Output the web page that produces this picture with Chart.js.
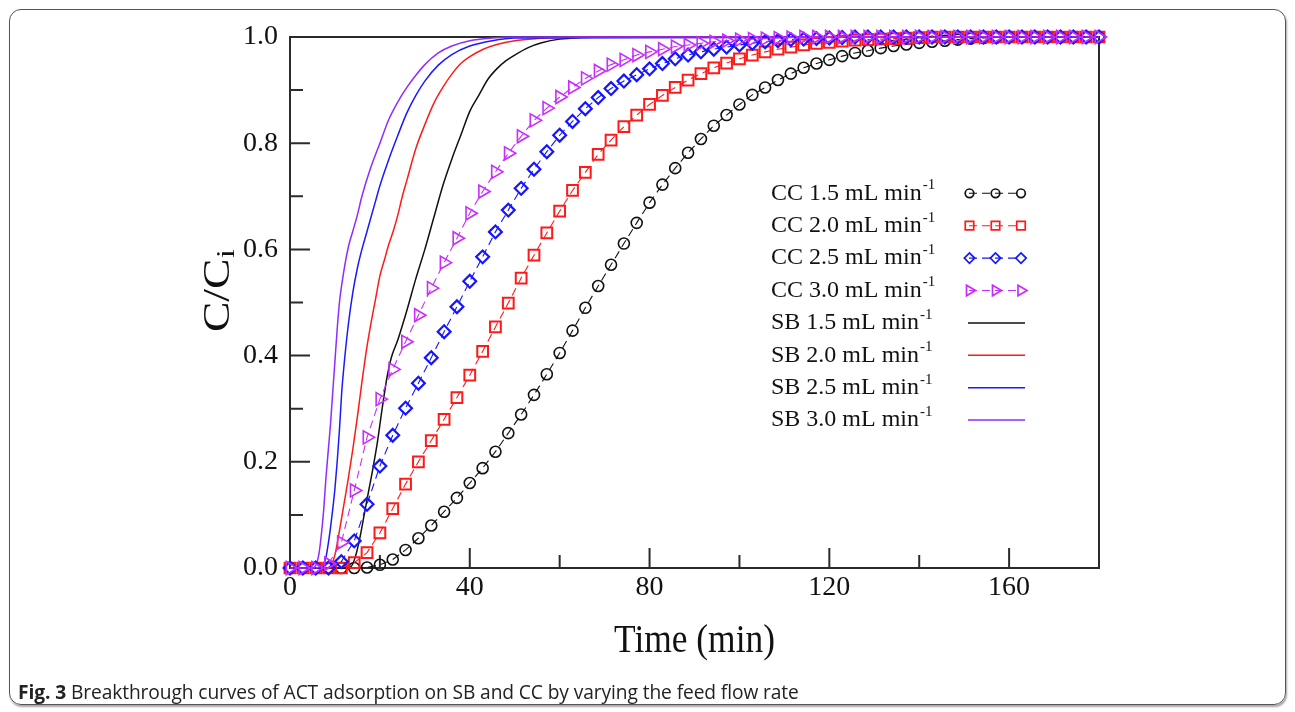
<!DOCTYPE html>
<html>
<head>
<meta charset="utf-8">
<script src="https://cdn.jsdelivr.net/npm/chart.js@4.4.1/dist/chart.umd.min.js"></script>
<style>
html,body{margin:0;padding:0;background:#fff;width:1295px;height:712px;overflow:hidden;}
#frame{position:absolute;left:9px;top:9px;width:1275px;height:694px;border:1.5px solid #555;border-radius:12px;box-shadow:1px 2px 2px rgba(0,0,0,.35);}
#c{position:absolute;left:0;top:0;}
#cap{position:absolute;left:18px;top:681px;font-family:'Open Sans',sans-serif;font-size:19.2px;line-height:22px;color:#222;white-space:nowrap;letter-spacing:-0.1px;}
#cap b{font-weight:700;}
</style>
</head>
<body>
<div id="frame"></div>
<canvas id="c" width="1295" height="712"></canvas>
<div id="cap"><b>Fig. 3</b> Breakthrough curves of ACT adsorption on SB and CC by varying the feed flow rate</div>
<script>
// ---- data (time in min, C/Ci) ----
const ccTime = [0,2.86,5.71,8.57,11.43,14.29,17.14,20,22.86,25.71,28.57,31.43,34.29,37.14,40,42.86,45.71,48.57,51.43,54.29,57.14,60,62.86,65.71,68.57,71.43,74.29,77.14,80,82.86,85.71,88.57,91.43,94.29,97.14,100,102.86,105.71,108.57,111.43,114.29,117.14,120,122.86,125.71,128.57,131.43,134.29,137.14,140,142.86,145.71,148.57,151.43,154.29,157.14,160,162.86,165.71,168.57,171.43,174.29,177.14,180];

const cc15 = [0,0,0,0,0,0,0.001,0.006,0.016,0.034,0.056,0.080,0.106,0.132,0.160,0.188,0.219,0.254,0.289,0.326,0.365,0.405,0.447,0.490,0.531,0.571,0.611,0.650,0.688,0.722,0.753,0.782,0.808,0.833,0.853,0.873,0.891,0.905,0.919,0.931,0.942,0.950,0.957,0.964,0.970,0.974,0.979,0.983,0.986,0.989,0.991,0.993,0.995,0.997,0.998,0.999,1,1,1,1,1,1,1,1];
const cc20 = [0,0,0,0,0,0.010,0.029,0.066,0.112,0.158,0.200,0.240,0.280,0.321,0.363,0.408,0.454,0.499,0.546,0.589,0.631,0.672,0.711,0.745,0.779,0.806,0.831,0.853,0.873,0.890,0.905,0.919,0.931,0.942,0.951,0.959,0.966,0.972,0.977,0.981,0.985,0.988,0.990,0.992,0.994,0.995,0.996,0.997,0.998,0.999,1,1,1,1,1,1,1,1,1,1,1,1,1,1];
const cc25 = [0,0,0,0,0.012,0.051,0.120,0.192,0.250,0.301,0.348,0.396,0.445,0.492,0.540,0.586,0.633,0.674,0.715,0.751,0.784,0.815,0.841,0.865,0.886,0.903,0.917,0.929,0.940,0.950,0.959,0.966,0.972,0.977,0.981,0.985,0.988,0.991,0.993,0.995,0.996,0.997,0.998,0.999,1,1,1,1,1,1,1,1,1,1,1,1,1,1,1,1,1,1,1,1];
const cc30 = [0,0,0,0.008,0.048,0.146,0.246,0.318,0.374,0.426,0.476,0.527,0.575,0.621,0.668,0.709,0.746,0.781,0.813,0.843,0.866,0.887,0.905,0.922,0.936,0.948,0.957,0.966,0.972,0.977,0.982,0.985,0.988,0.991,0.993,0.995,0.996,0.997,0.998,0.999,1,1,1,1,1,1,1,1,1,1,1,1,1,1,1,1,1,1,1,1,1,1,1,1];

const sb15Time = [0,12,13.5,14.5,15.5,16.5,17.5,18.5,19.5,20.5,21.5,22.5,24,26,28,30,32,34,36,38,40,42,44,46,48,50,53,56,60,65,70,180];
const sb15 = [0,0,0.002,0.02,0.055,0.10,0.145,0.19,0.24,0.30,0.355,0.395,0.43,0.485,0.545,0.60,0.66,0.72,0.77,0.815,0.86,0.89,0.92,0.94,0.955,0.966,0.98,0.989,0.996,0.999,1,1];
const sb20Time = [0,8,9,10,11,12,13,14,15,16,17,18,19,20,21,22,23,24,25,26,28,30,32,34,36,38,40,43,46,50,55,60,65,180];
const sb20 = [0,0,0.004,0.025,0.07,0.12,0.17,0.225,0.285,0.35,0.41,0.46,0.505,0.55,0.58,0.61,0.635,0.665,0.70,0.73,0.79,0.835,0.875,0.905,0.93,0.95,0.963,0.977,0.986,0.993,0.997,0.999,1,1];
const sb25Time = [0,6.5,7,7.5,8,8.5,9,9.5,10,10.5,11,11.5,12,13,14,15,16,17,18,19,20,22,24,26,28,30,33,36,40,45,50,180];
const sb25 = [0,0,0.002,0.008,0.02,0.045,0.075,0.11,0.15,0.2,0.26,0.33,0.38,0.46,0.52,0.565,0.60,0.63,0.66,0.69,0.72,0.77,0.815,0.857,0.89,0.917,0.947,0.967,0.983,0.993,0.998,1];
const sb30Time = [0,5,5.5,6,6.5,7,7.5,8,8.5,9,9.5,10,10.5,11,12,13,14,15,16,18,20,22,24,26,28,30,33,36,40,45,50,180];
const sb30 = [0,0,0.002,0.01,0.03,0.065,0.11,0.17,0.22,0.27,0.33,0.39,0.45,0.50,0.56,0.605,0.635,0.665,0.70,0.755,0.80,0.845,0.878,0.905,0.928,0.948,0.97,0.983,0.993,0.998,1,1];

const xTicks = [0,40,80,120,160];
const xMinor = [20,60,100,140];
const yTicks = [0,0.2,0.4,0.6,0.8,1.0];
const yMinor = [0.1,0.3,0.5,0.7,0.9];
const legendLabels = ['CC 1.5 mL min','CC 2.0 mL min','CC 2.5 mL min','CC 3.0 mL min','SB 1.5 mL min','SB 2.0 mL min','SB 2.5 mL min','SB 3.0 mL min'];
const legendSup = '-1';

// ---- styles ----
const SERIF = '"Liberation Serif", "Times New Roman", serif';
const pts = (xs, ys) => xs.map((x, i) => ({x: x, y: ys[i]}));

function ccSet(label, xs, ys, color, shape, r, rot, bw, order) {
  return {label, data: pts(xs, ys), borderColor: color, borderWidth: 1.1, borderDash: [8, 5],
    pointStyle: shape, pointRadius: r, pointHoverRadius: r, pointRotation: rot,
    pointBorderColor: color, pointBackgroundColor: 'rgba(0,0,0,0)', pointBorderWidth: bw,
    fill: false, tension: 0, clip: false, order, _legend: {kind: 'cc', shape, rot}};
}
function sbSet(label, xs, ys, color, order) {
  return {label, data: pts(xs, ys), borderColor: color, borderWidth: 1.5,
    pointRadius: 0, pointHoverRadius: 0, fill: false, cubicInterpolationMode: 'monotone',
    clip: false, order, _legend: {kind: 'sb'}};
}

const datasets = [
  ccSet(legendLabels[0], ccTime, cc15, '#111111', 'circle', 5.5, 0, 1.6, 3),
  ccSet(legendLabels[1], ccTime, cc20, '#ff1a1a', 'rect', 7.6, 0, 2.0, 2),
  ccSet(legendLabels[2], ccTime, cc25, '#1515ff', 'rectRot', 6.4, 0, 2.2, 1),
  ccSet(legendLabels[3], ccTime, cc30, '#c82cff', 'triangle', 7.5, 90, 1.6, 0),
  sbSet(legendLabels[4], sb15Time, sb15, '#111111', 7),
  sbSet(legendLabels[5], sb20Time, sb20, '#ff1a1a', 6),
  sbSet(legendLabels[6], sb25Time, sb25, '#1a1aff', 5),
  sbSet(legendLabels[7], sb30Time, sb30, '#8f2cff', 4)
];

function drawMarker(ctx, shape, x, y, r, rot, color, lw) {
  ctx.save();
  ctx.strokeStyle = color; ctx.lineWidth = lw; ctx.setLineDash([]);
  ctx.beginPath();
  if (shape === 'circle') {
    ctx.arc(x, y, r, 0, Math.PI * 2);
  } else if (shape === 'rect') {
    const s = r * Math.SQRT1_2; ctx.rect(x - s, y - s, 2 * s, 2 * s);
  } else if (shape === 'rectRot') {
    ctx.moveTo(x - r, y); ctx.lineTo(x, y - r); ctx.lineTo(x + r, y); ctx.lineTo(x, y + r); ctx.closePath();
  } else if (shape === 'triangle') {
    let a = rot * Math.PI / 180;
    ctx.moveTo(x + Math.sin(a) * r, y - Math.cos(a) * r);
    a += 2 * Math.PI / 3; ctx.lineTo(x + Math.sin(a) * r, y - Math.cos(a) * r);
    a += 2 * Math.PI / 3; ctx.lineTo(x + Math.sin(a) * r, y - Math.cos(a) * r);
    ctx.closePath();
  }
  ctx.stroke();
  ctx.restore();
}

const framePlugin = {
  id: 'framePlugin',
  beforeDatasetsDraw(chart) {
    const {ctx, chartArea: a, scales} = chart;
    ctx.save();
    ctx.strokeStyle = '#2b2b2b';
    ctx.lineWidth = 2;
    ctx.strokeRect(a.left, a.top, a.right - a.left, a.bottom - a.top);
    ctx.beginPath();
    xTicks.forEach(v => { const p = scales.x.getPixelForValue(v); ctx.moveTo(p, a.bottom); ctx.lineTo(p, a.bottom - 20); });
    xMinor.forEach(v => { const p = scales.x.getPixelForValue(v); ctx.moveTo(p, a.bottom); ctx.lineTo(p, a.bottom - 13); });
    yTicks.forEach(v => { const p = scales.y.getPixelForValue(v); ctx.moveTo(a.left, p); ctx.lineTo(a.left + 20, p); });
    yMinor.forEach(v => { const p = scales.y.getPixelForValue(v); ctx.moveTo(a.left, p); ctx.lineTo(a.left + 13, p); });
    ctx.stroke();
    ctx.restore();
  },
  afterDraw(chart) {
    const {ctx, chartArea: a} = chart;
    ctx.save();
    ctx.fillStyle = '#111';
    // x title
    ctx.save();
    ctx.translate((a.left + a.right) / 2, 641);
    ctx.scale(0.885, 1);
    ctx.font = '40px ' + SERIF;
    ctx.textAlign = 'center'; ctx.textBaseline = 'middle';
    ctx.fillText('Time (min)', 0, 0);
    ctx.restore();
    // y title C/Ci
    ctx.save();
    ctx.translate(216, 291);
    ctx.rotate(-Math.PI / 2);
    ctx.scale(1.2, 1);
    ctx.font = '38px ' + SERIF;
    const w1 = ctx.measureText('C/C').width;
    ctx.font = '26px ' + SERIF;
    const w2 = ctx.measureText('i').width;
    const tot = w1 + w2;
    ctx.textAlign = 'left'; ctx.textBaseline = 'alphabetic';
    ctx.font = '38px ' + SERIF;
    ctx.fillText('C/C', -tot / 2, 13);
    ctx.font = '26px ' + SERIF;
    ctx.fillText('i', -tot / 2 + w1 + 0.5, 18);
    ctx.restore();
    // legend
    const y0 = 193.3, dy = 32.4, tx = 771;
    chart.data.datasets.forEach((ds, i) => {
      const y = y0 + i * dy;
      ctx.font = '24px ' + SERIF;
      ctx.textAlign = 'left'; ctx.textBaseline = 'middle';
      ctx.fillStyle = '#111';
      ctx.fillText(ds.label, tx, y);
      const w = ctx.measureText(ds.label).width;
      ctx.font = '15px ' + SERIF;
      ctx.fillText(legendSup, tx + w + 1, y - 8);
      const lg = ds._legend;
      if (lg.kind === 'cc') {
        ctx.save();
        ctx.strokeStyle = ds.borderColor; ctx.lineWidth = 1.1; ctx.setLineDash([8, 5]);
        ctx.beginPath(); ctx.moveTo(969, y); ctx.lineTo(1021, y); ctx.stroke();
        ctx.restore();
        const rr = lg.shape === 'circle' ? 4.3 : lg.shape === 'rect' ? 6 : lg.shape === 'rectRot' ? 5.2 : 6;
        [969.5, 995.5, 1021].forEach(px => drawMarker(ctx, lg.shape, px, y, rr, lg.rot, ds.borderColor, 1.7));
      } else {
        ctx.save();
        ctx.strokeStyle = ds.borderColor; ctx.lineWidth = 1.5;
        ctx.beginPath(); ctx.moveTo(968, y); ctx.lineTo(1025, y); ctx.stroke();
        ctx.restore();
      }
    });
    ctx.restore();
  }
};

new Chart(document.getElementById('c'), {
  type: 'line',
  data: {datasets},
  options: {
    responsive: false,
    animation: false,
    devicePixelRatio: 1,
    events: [],
    layout: {padding: {left: 0, right: 196, top: 37, bottom: 0}},
    plugins: {legend: {display: false}, tooltip: {enabled: false}, title: {display: false}},
    scales: {
      x: {
        type: 'linear', min: 0, max: 180,
        afterBuildTicks: s => { s.ticks = xTicks.map(v => ({value: v})); },
        afterFit: s => { s.height = 144; },
        grid: {display: false, drawTicks: false},
        border: {display: false},
        ticks: {padding: 3, color: '#111', font: {family: SERIF, size: 28}, maxRotation: 0, callback: v => String(v)}
      },
      y: {
        type: 'linear', min: 0, max: 1,
        afterBuildTicks: s => { s.ticks = yTicks.map(v => ({value: v})); },
        afterFit: s => { s.width = 290; },
        grid: {display: false, drawTicks: false},
        border: {display: false},
        ticks: {padding: 12, color: '#111', font: {family: SERIF, size: 28}, callback: v => Number(v).toFixed(1)}
      }
    }
  },
  plugins: [framePlugin]
});
</script>
</body>
</html>
